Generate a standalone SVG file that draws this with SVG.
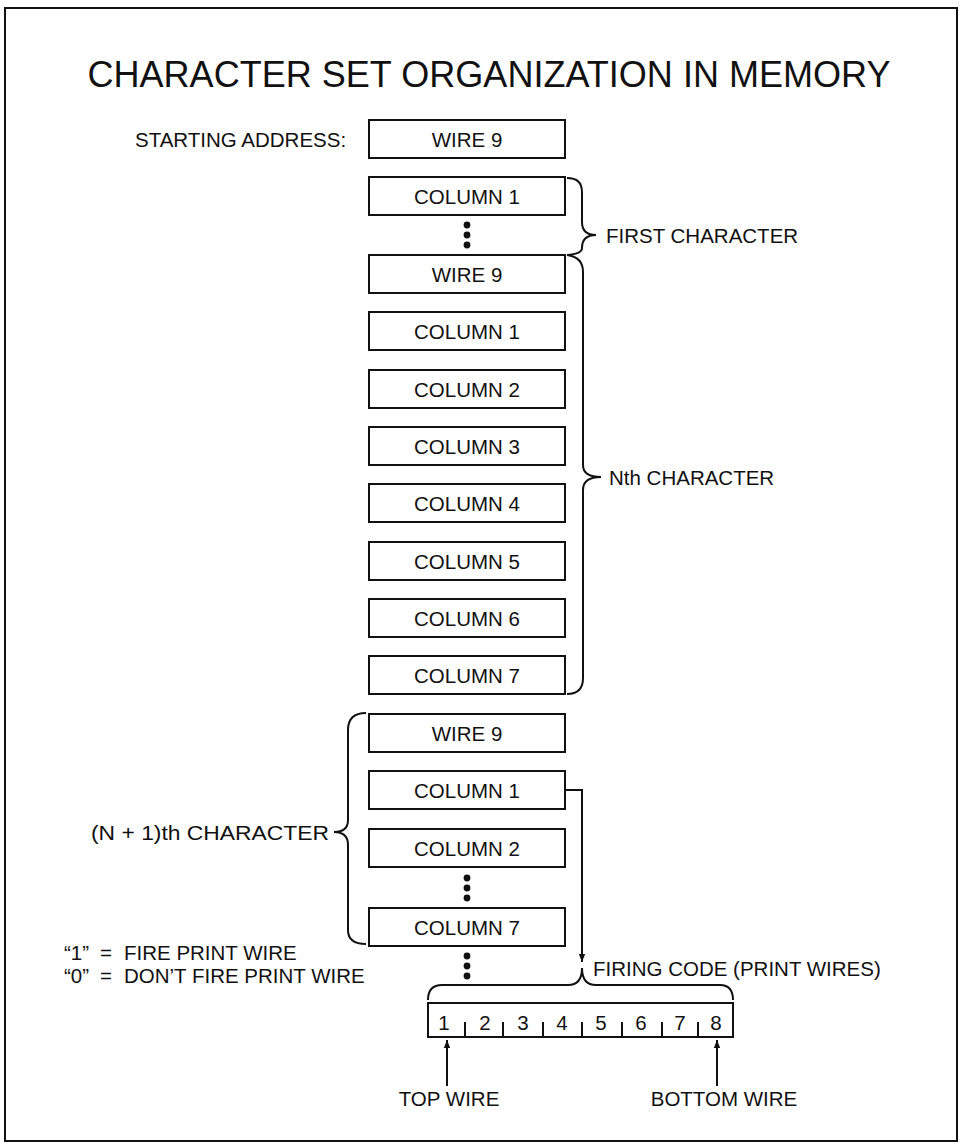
<svg xmlns="http://www.w3.org/2000/svg" width="962" height="1145" viewBox="0 0 962 1145">
<defs>
<style>
text{font-family:"Liberation Sans",Arial,sans-serif;fill:#111}
.box{fill:#fff;stroke:#111;stroke-width:2}
.lbl{font-size:20.5px;text-anchor:middle}
.t{font-size:20.5px}
.ln{fill:none;stroke:#111;stroke-width:2}
.dot{fill:#111}
</style>
<marker id="ah" viewBox="0 0 10 10" refX="10" refY="5" markerWidth="8" markerHeight="10" markerUnits="userSpaceOnUse" orient="auto">
<path d="M0,1 L10,5 L0,9 Z" fill="#111"/>
</marker>
</defs>
<rect x="0" y="0" width="962" height="1145" fill="#fff"/>
<rect x="5" y="8" width="952" height="1133" fill="none" stroke="#111" stroke-width="2"/>
<text x="489" y="87" font-size="36" text-anchor="middle" textLength="803" lengthAdjust="spacingAndGlyphs">CHARACTER SET ORGANIZATION IN MEMORY</text>

<g id="start-label"><text class="t" x="135" y="147">STARTING ADDRESS:</text></g>
<g id="n0-wire9"><rect class="box" x="369" y="120" width="196" height="38"/><text class="lbl" x="467" y="147">WIRE 9</text></g>
<g id="n1-col1"><rect class="box" x="369" y="177" width="196" height="38"/><text class="lbl" x="467" y="204">COLUMN 1</text></g>
<g id="dots1"><circle class="dot" cx="467" cy="225" r="3.4"/><circle class="dot" cx="467" cy="235" r="3.4"/><circle class="dot" cx="467" cy="245" r="3.4"/></g>
<g id="n2-wire9"><rect class="box" x="369" y="255" width="196" height="38"/><text class="lbl" x="467" y="282">WIRE 9</text></g>
<g id="n2-col1"><rect class="box" x="369" y="312" width="196" height="38"/><text class="lbl" x="467" y="339">COLUMN 1</text></g>
<g id="n2-col2"><rect class="box" x="369" y="370" width="196" height="38"/><text class="lbl" x="467" y="397">COLUMN 2</text></g>
<g id="n2-col3"><rect class="box" x="369" y="427" width="196" height="38"/><text class="lbl" x="467" y="454">COLUMN 3</text></g>
<g id="n2-col4"><rect class="box" x="369" y="484" width="196" height="38"/><text class="lbl" x="467" y="511">COLUMN 4</text></g>
<g id="n2-col5"><rect class="box" x="369" y="542" width="196" height="38"/><text class="lbl" x="467" y="569">COLUMN 5</text></g>
<g id="n2-col6"><rect class="box" x="369" y="599" width="196" height="38"/><text class="lbl" x="467" y="626">COLUMN 6</text></g>
<g id="n2-col7"><rect class="box" x="369" y="656" width="196" height="38"/><text class="lbl" x="467" y="683">COLUMN 7</text></g>
<g id="n3-wire9"><rect class="box" x="369" y="714" width="196" height="38"/><text class="lbl" x="467" y="741">WIRE 9</text></g>
<g id="n3-col1"><rect class="box" x="369" y="771" width="196" height="38"/><text class="lbl" x="467" y="798">COLUMN 1</text></g>
<g id="n3-col2"><rect class="box" x="369" y="829" width="196" height="38"/><text class="lbl" x="467" y="856">COLUMN 2</text></g>
<g id="dots2"><circle class="dot" cx="467" cy="878" r="3.4"/><circle class="dot" cx="467" cy="888" r="3.4"/><circle class="dot" cx="467" cy="898" r="3.4"/></g>
<g id="n3-col7"><rect class="box" x="369" y="908" width="196" height="38"/><text class="lbl" x="467" y="935">COLUMN 7</text></g>
<g id="dots3"><circle class="dot" cx="467" cy="956" r="3.4"/><circle class="dot" cx="467" cy="966" r="3.4"/><circle class="dot" cx="467" cy="976" r="3.4"/></g>

<g id="brace-first"><path class="ln" d="M567,178 Q582,178 582,192 L582,222 Q582,235 596,235 Q582,235 582,248 Q582,254 567,255"/><text class="t" x="606" y="243">FIRST CHARACTER</text></g>
<g id="brace-nth"><path class="ln" d="M567,255 Q583,257 583,272 L583,465 Q583,477 601,477 Q583,477 583,490 L583,678 Q583,694 567,694"/><text class="t" x="609" y="485">Nth CHARACTER</text></g>
<g id="brace-n1"><path class="ln" d="M366,713 Q348,713 348,730 L348,820 Q348,832 334,832 Q348,832 348,845 L348,930 Q348,944 366,944"/><text class="t" x="329" y="840" text-anchor="end" textLength="238" lengthAdjust="spacingAndGlyphs">(N + 1)th CHARACTER</text></g>

<g id="legend">
<text class="t" x="64" y="960">“1”</text><text class="t" x="100" y="960">=</text><text class="t" x="124" y="960">FIRE PRINT WIRE</text>
<text class="t" x="64" y="983">“0”</text><text class="t" x="100" y="983">=</text><text class="t" x="124" y="983">DON’T FIRE PRINT WIRE</text>
</g>

<g id="connectors">
<path class="ln" d="M565,790 L582,790 L582,962" marker-end="url(#ah)"/>
<path class="ln" d="M447,1086 L447,1040" marker-end="url(#ah)"/>
<path class="ln" d="M717,1086 L717,1040" marker-end="url(#ah)"/>
</g>

<g id="firing-code">
<path class="ln" d="M428,1000 Q428,985 442,985 L568,985 Q582,985 582,968 Q582,985 596,985 L720,985 Q733,985 733,1000"/>
<text class="t" x="593" y="976">FIRING CODE (PRINT WIRES)</text>
<rect class="box" x="428" y="1003" width="305" height="34"/>
<path class="ln" d="M465,1022 V1037 M503,1022 V1037 M543,1022 V1037 M582,1022 V1037 M622,1022 V1037 M662,1022 V1037 M698,1022 V1037"/>
<text class="lbl" x="444" y="1030">1</text>
<text class="lbl" x="485" y="1030">2</text>
<text class="lbl" x="523" y="1030">3</text>
<text class="lbl" x="562" y="1030">4</text>
<text class="lbl" x="601" y="1030">5</text>
<text class="lbl" x="641" y="1030">6</text>
<text class="lbl" x="680" y="1030">7</text>
<text class="lbl" x="716" y="1030">8</text>
</g>
<g id="top-wire"><text class="lbl" x="449" y="1106">TOP WIRE</text></g>
<g id="bottom-wire"><text class="lbl" x="724" y="1106">BOTTOM WIRE</text></g>
</svg>
